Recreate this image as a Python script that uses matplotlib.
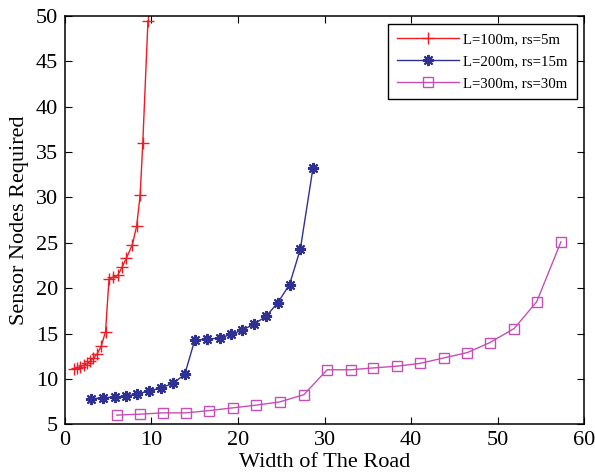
import matplotlib
matplotlib.use("Agg")
import matplotlib.pyplot as plt

plt.rcParams['font.family'] = ['Liberation Serif', 'DejaVu Serif']

# L=100m, rs=5m
w100 = [1.0, 1.4, 1.8, 2.2, 2.6, 2.9, 3.3, 3.7, 4.2, 4.7, 5.1, 5.6, 6.1, 6.6, 7.1, 7.8, 8.3, 8.7, 9.0, 9.6]
n100 = [11.1, 11.2, 11.35, 11.5, 11.7, 11.95, 12.3, 12.7, 13.6, 15.2, 21.0, 21.2, 21.4, 22.3, 23.3, 24.8, 26.9, 30.3, 36.0, 49.5]

# L=200m, rs=15m
w200 = [3.0, 4.35, 5.75, 7.1, 8.35, 9.7, 11.1, 12.5, 13.85, 15.0, 16.45, 17.9, 19.2, 20.45, 21.8, 23.25, 24.6, 25.95, 27.2, 28.65]
n200 = [7.8, 7.9, 8.0, 8.1, 8.35, 8.65, 9.0, 9.5, 10.5, 14.25, 14.4, 14.5, 14.9, 15.35, 16.0, 16.9, 18.4, 20.4, 24.3, 33.2]

# L=300m, rs=30m
w300 = [6.0, 8.65, 11.35, 14.0, 16.7, 19.4, 22.1, 24.8, 27.6, 30.3, 33.0, 35.6, 38.4, 41.0, 43.75, 46.5, 49.1, 51.9, 54.5, 57.3]
n300 = [6.0, 6.1, 6.25, 6.25, 6.5, 6.8, 7.1, 7.45, 8.25, 11.0, 11.0, 11.2, 11.4, 11.7, 12.3, 12.9, 14.0, 15.55, 18.5, 25.1]

x_ticks = [0, 10, 20, 30, 40, 50, 60]
y_ticks = [5, 10, 15, 20, 25, 30, 35, 40, 45, 50]

fig = plt.figure(figsize=(5.95, 4.75), dpi=100)
ax = fig.add_axes([0.109, 0.107, 0.873, 0.859])

ax.plot(w100, n100, color='#ee1c24', lw=1.0, marker='+', ms=9, mew=1.0,
        label='L=100m, rs=5m')
ax.plot(w200, n200, color='#2e3192', lw=1.0, marker=(8, 2, 0), ms=8, mew=1.5,
        label='L=200m, rs=15m')
ax.plot(w300, n300, color='#c54fb5', lw=1.0, marker='s', ms=7.5, mew=1.0,
        mfc='none', label='L=300m, rs=30m')

ax.set_xlim(0, 60)
ax.set_ylim(5, 50)
ax.set_xticks(x_ticks)
ax.set_yticks(y_ticks)
ax.tick_params(direction='in', top=True, right=True, length=5, width=0.8,
               labelsize=16, pad=5)
for s in ax.spines.values():
    s.set_linewidth(1.1)

ax.set_xlabel('Width of The Road', fontsize=16, labelpad=2)
ax.set_ylabel('Sensor Nodes Required', fontsize=16, labelpad=5)

leg = ax.legend(loc='upper right', fontsize=10.7, frameon=True, fancybox=False,
                edgecolor='black', framealpha=1, handlelength=4.2,
                handletextpad=0.3, borderpad=0.6, labelspacing=0.6,
                borderaxespad=0.5)
leg.get_frame().set_linewidth(1.0)

fig.savefig('out.png', dpi=100)
